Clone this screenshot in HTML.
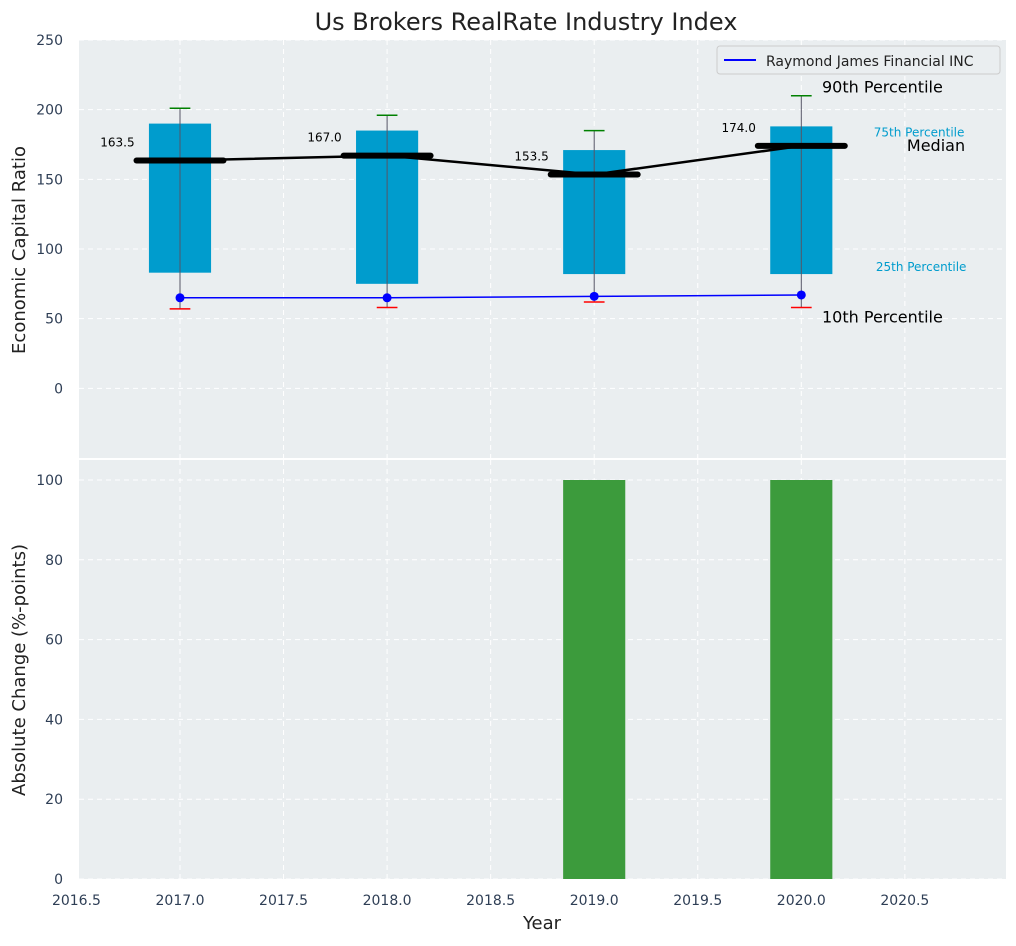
<!DOCTYPE html>
<html><head><meta charset="utf-8"><style>
body{margin:0;background:#fff;font-family:"DejaVu Sans","Liberation Sans",sans-serif}
svg text{font-family:"DejaVu Sans","Liberation Sans",sans-serif}
</style></head><body>
<svg id="c" width="1016" height="942" xmlns="http://www.w3.org/2000/svg">
<text x="526" y="30" font-size="24" text-anchor="middle" fill="#222">Us Brokers RealRate Industry Index</text>
<rect x="79" y="40" width="927" height="418" fill="#eaeef0"/>
<rect x="79" y="460" width="927" height="419" fill="#eaeef0"/>
<g id="g"></g>
<text x="25" y="250" font-size="18" fill="#222" text-anchor="middle" transform="rotate(-90 25 250)">Economic Capital Ratio</text>
<text x="25" y="670" font-size="18" fill="#222" text-anchor="middle" transform="rotate(-90 25 670)">Absolute Change (%-points)</text>
<text x="542" y="929" font-size="18" fill="#222" text-anchor="middle">Year</text>
<g>
<rect x="717" y="46" width="283" height="28" rx="3" fill="#eaeef0" stroke="#ccc"/>
<line x1="724" y1="60" x2="756" y2="60" stroke="#00f" stroke-width="2"/>
<text x="766" y="66" font-size="14" fill="#222">Raymond James Financial INC</text>
</g>
</svg>
<script>
const years=[2017,2018,2019,2020];
const p90=[201,196,185,210];
const p75=[190,185,171,188];
const med=[163.5,167,153.5,174];
const p25=[83,75,82,82];
const p10=[57,58,62,58];
const company=[65,65,66,67];
const changeYears=[2019,2020];
const changes=[100,100];
const xTicks=[2016.5,2017,2017.5,2018,2018.5,2019,2019.5,2020,2020.5];
const topTicks=[0,50,100,150,200,250];
const botTicks=[0,20,40,60,80,100];
const NS="http://www.w3.org/2000/svg";
const g=document.getElementById('g');
const X=v=>180+(v-2017)*207.1;
const YT=v=>40+(250-v)*1.3933;
const YB=v=>879-v*3.99;
function el(t,a,name,txt){const e=document.createElementNS(NS,t);for(const k in a)e.setAttribute(k,a[k]);


if(txt!==undefined)e.textContent=txt;g.appendChild(e);return e;}
const grid={stroke:'#fff','stroke-dasharray':'5,4','stroke-width':1};
xTicks.forEach(t=>{
el('line',Object.assign({x1:X(t),x2:X(t),y1:40,y2:458},grid),'top-x-gridline');
el('line',Object.assign({x1:X(t),x2:X(t),y1:460,y2:879},grid),'bottom-x-gridline');
el('text',{x:X(t),y:905,'font-size':14,fill:'#2e3e55','text-anchor':'middle'},'x-tick-label',t.toFixed(1));});
topTicks.forEach(t=>{el('line',Object.assign({x1:79,x2:1006,y1:YT(t),y2:YT(t)},grid),'top-y-gridline');
el('text',{x:63,y:YT(t)+5,'font-size':14,fill:'#2e3e55','text-anchor':'end'},'top-y-tick-label',t);});
botTicks.forEach(t=>{el('line',Object.assign({x1:79,x2:1006,y1:YB(t),y2:YB(t)},grid),'bottom-y-gridline');
el('text',{x:63,y:YB(t)+5,'font-size':14,fill:'#2e3e55','text-anchor':'end'},'bottom-y-tick-label',t);});
el('line',{x1:79,x2:1006,y1:459,y2:459,stroke:'#fff','stroke-width':2},'axes-divider');
years.forEach((y,i)=>{
el('rect',{x:X(y-0.15),y:YT(p75[i]),width:0.3*207.1,height:YT(p25[i])-YT(p75[i]),fill:'#009ccd'},'iqr-box');
el('line',{x1:X(y),x2:X(y),y1:YT(p90[i]),y2:YT(p10[i]),stroke:'#556',"stroke-width":1},'whisker');
el('line',{x1:X(y-0.05),x2:X(y+0.05),y1:YT(p90[i]),y2:YT(p90[i]),stroke:'green','stroke-width':1.5},'p90-cap');
el('line',{x1:X(y-0.05),x2:X(y+0.05),y1:YT(p10[i]),y2:YT(p10[i]),stroke:'red','stroke-width':1.5},'p10-cap');
el('line',{x1:X(y-0.21),x2:X(y+0.21),y1:YT(med[i]),y2:YT(med[i]),stroke:'#000','stroke-width':6,'stroke-linecap':'round'},'median-bar');
el('text',{x:X(y-0.2)-4,y:YT(med[i])-14,'font-size':12,fill:'#000','text-anchor':'end'},'median-label',med[i].toFixed(1));
});
el('polyline',{points:years.map((y,i)=>X(y)+','+YT(med[i])).join(' '),fill:'none',stroke:'#000','stroke-width':2.5},'median-line');
el('polyline',{points:years.map((y,i)=>X(y)+','+YT(company[i])).join(' '),fill:'none',stroke:'#00f','stroke-width':1.5},'company-line');
years.forEach((y,i)=>el('circle',{cx:X(y),cy:YT(company[i]),r:4.5,fill:'#00f'},'company-point'));
changeYears.forEach((y,i)=>el('rect',{x:X(y-0.15),y:YB(changes[i]),width:0.3*207.1,height:YB(0)-YB(changes[i]),fill:'#3c9b3c'},'change-bar'));
const L=years.length-1;
el('text',{x:X(2020.1),y:YT(p90[L])-3,'font-size':16,fill:'#000'},'p90-label','90th Percentile');
el('text',{x:X(2020.35),y:YT(p75[L])+10,'font-size':12,fill:'#009ccd'},'p75-label','75th Percentile');
el('text',{x:X(2020.51),y:YT(med[L])+5,'font-size':16,fill:'#000'},'median-text-label','Median');
el('text',{x:X(2020.36),y:YT(p25[L])-3,'font-size':12,fill:'#009ccd'},'p25-label','25th Percentile');
el('text',{x:X(2020.1),y:YT(p10[L])+15,'font-size':16,fill:'#000'},'p10-label','10th Percentile');
</script>
</body></html>
